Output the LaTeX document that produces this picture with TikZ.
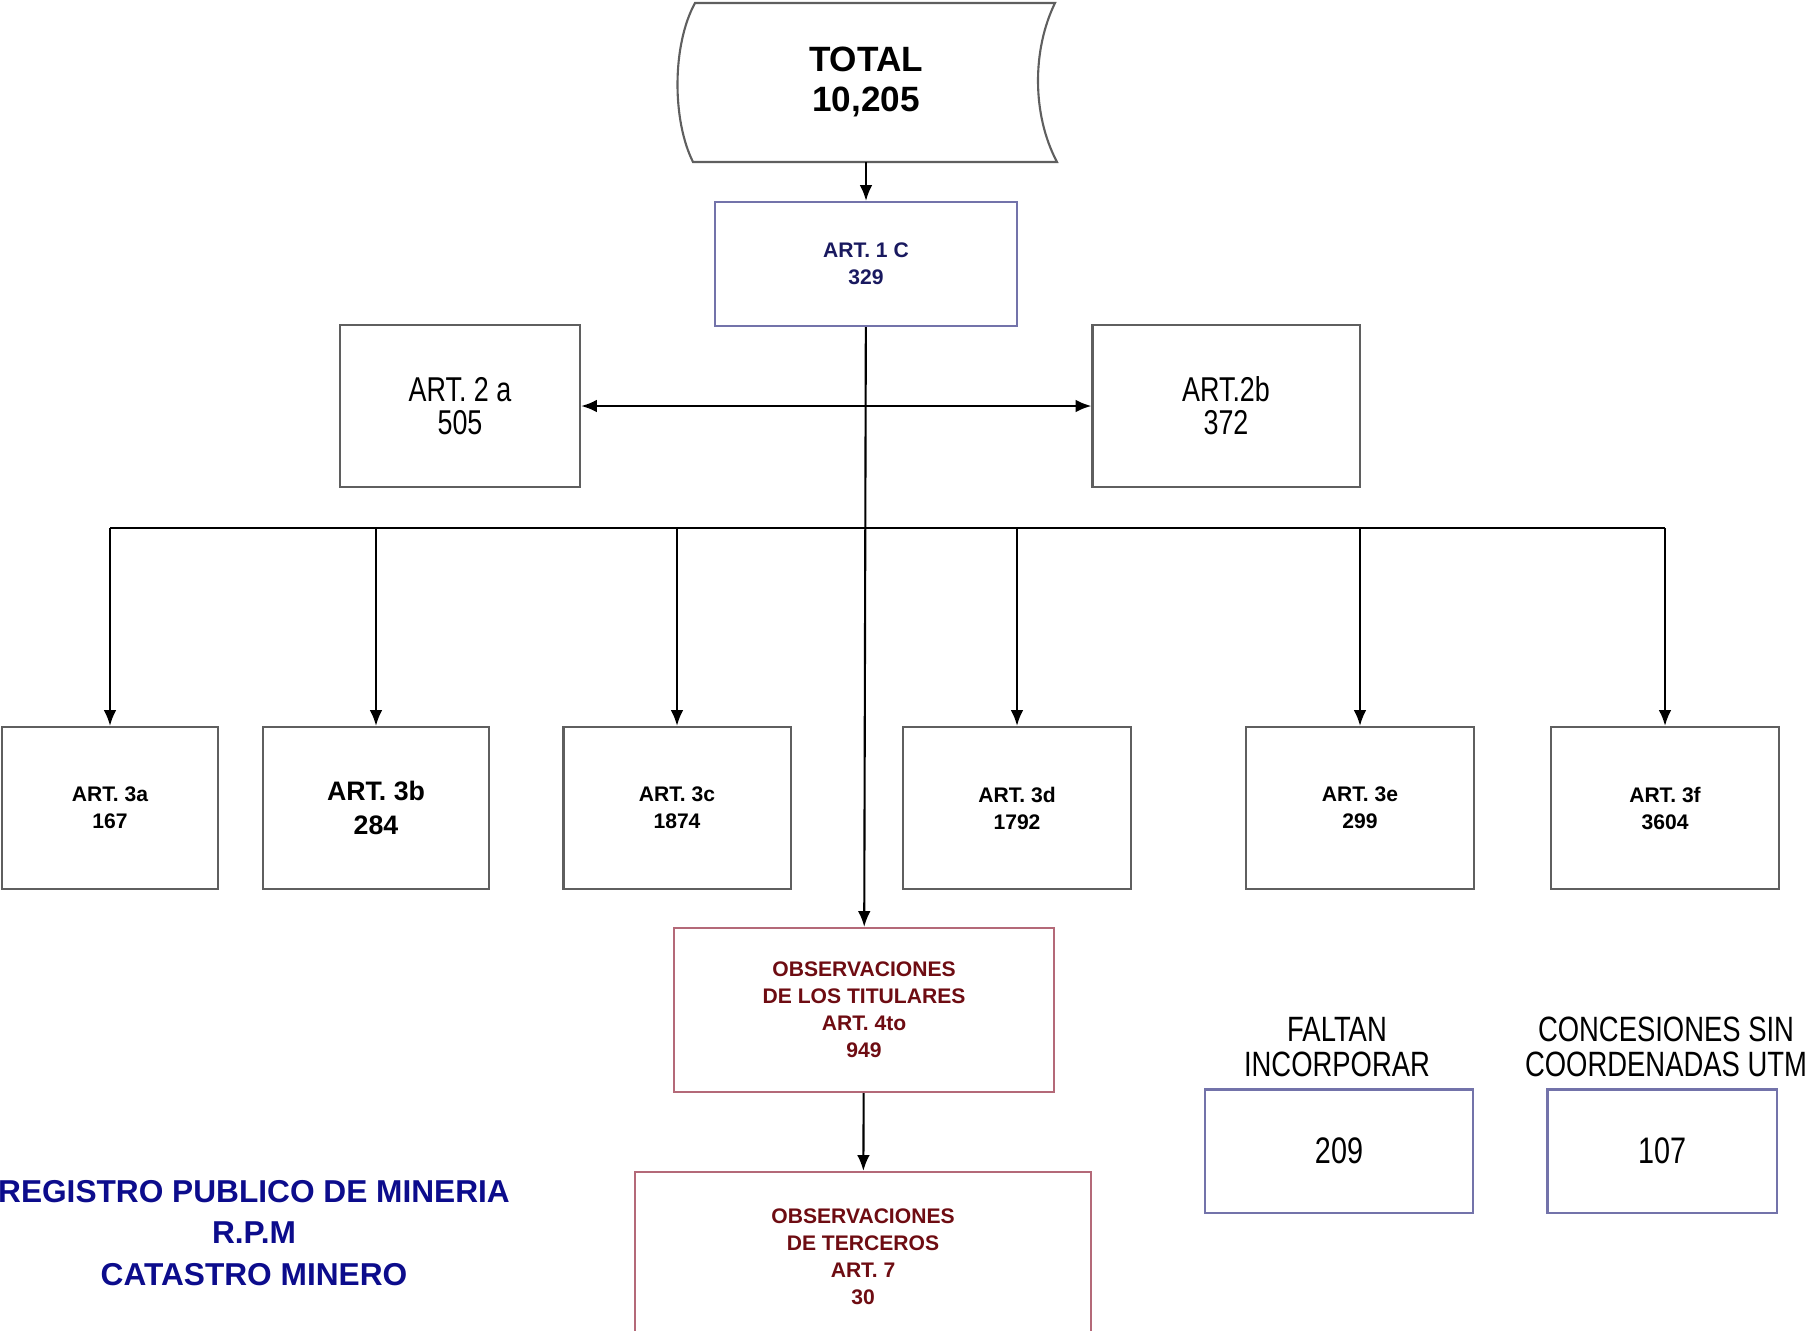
\documentclass[tikz,border=0pt]{standalone}
\usepackage{fontspec}
\setmainfont{Liberation Sans}
\newfontfamily\narrowfont[FakeStretch=0.78]{Liberation Sans}
\usetikzlibrary{arrows.meta}
\definecolor{boxgray}{RGB}{95,95,95}
\definecolor{artnavy}{RGB}{25,25,95}
\definecolor{obsred}{RGB}{110,12,18}
\definecolor{obsline}{RGB}{180,105,120}
\definecolor{artline}{RGB}{115,115,170}
\definecolor{rpmblue}{RGB}{12,12,140}
\begin{document}
\begin{tikzpicture}[x=0.01cm,y=-0.01cm,>={Latex[length=4.5pt,width=3.6pt]},
		box/.style={draw=boxgray,line width=0.6pt,inner sep=0pt,align=center},
		smallbold/.style={font=\bfseries\fontsize{6}{7.7}\selectfont},
		narrowtext/.style={font=\narrowfont\fontsize{9.8}{9.4}\selectfont},
		conn/.style={line width=0.6pt,draw=black}]
		\useasboundingbox (0,0) rectangle (1807,1330);
		\clip (0,0) rectangle (1807,1330);
		\node[inner sep=0pt,align=center,minimum width=3.6cm,minimum height=1.59cm,
			font=\bfseries\fontsize{10}{11.4}\selectfont] (total) at (866,82) {TOTAL\\10,205};
		\draw[draw=boxgray,line width=0.6pt] (695,3) -- (1055,3)
			.. controls (1032,50) and (1032,115) .. (1057,162) -- (693,162)
			.. controls (672,120) and (672,45) .. cycle;
		\node[box,draw=artline,smallbold,text=artnavy,minimum width=3.02cm,minimum height=1.24cm]
			(art1c) at (866,264) {ART. 1 C\\329};
		\node[box,narrowtext,minimum width=2.4cm,minimum height=1.62cm] (art2a) at (460,406) {ART. 2 a\\505};
		\node[box,narrowtext,minimum width=2.67cm,minimum height=1.62cm] (art2b) at (1226,406) {ART.2b\\372};
		\node[box,smallbold,minimum width=2.15cm,minimum height=1.62cm] (art3a) at (110,808) {ART. 3a\\167};
		\node[box,font=\bfseries\fontsize{7.6}{9.7}\selectfont,minimum width=2.25cm,minimum height=1.62cm]
			(art3b) at (376,808) {ART. 3b\\284};
		\node[box,smallbold,minimum width=2.27cm,minimum height=1.62cm] (art3c) at (677,808) {ART. 3c\\1874};
		\node[box,smallbold,minimum width=2.28cm,minimum height=1.62cm] (art3d) at (1017,808) {ART. 3d\\1792};
		\node[box,smallbold,minimum width=2.28cm,minimum height=1.62cm] (art3e) at (1360,808) {ART. 3e\\299};
		\node[box,smallbold,minimum width=2.28cm,minimum height=1.62cm] (art3f) at (1665,808) {ART. 3f\\3604};
		\node[box,draw=obsline,smallbold,text=obsred,minimum width=3.79cm,minimum height=1.64cm]
			(obstit) at (864,1010) {OBSERVACIONES\\DE LOS TITULARES\\ART. 4to\\949};
		\node[box,draw=obsline,smallbold,text=obsred,minimum width=4.56cm,minimum height=1.7cm]
			(obster) at (863,1257) {OBSERVACIONES\\DE TERCEROS\\ART. 7\\30};
		\node[box,draw=artline,font=\narrowfont\fontsize{10.5}{10}\selectfont,minimum width=2.68cm,minimum height=1.23cm]
			(faltan) at (1339,1151) {209};
		\node[box,draw=artline,font=\narrowfont\fontsize{10.5}{10}\selectfont,minimum width=2.29cm,minimum height=1.23cm]
			(sinutm) at (1662,1151) {107};
		\node[align=center,font=\narrowfont\fontsize{10}{10}\selectfont] (faltanlbl) at (1337,1047) {FALTAN\\INCORPORAR};
		\node[align=center,font=\narrowfont\fontsize{10}{10}\selectfont] (sinutmlbl) at (1666,1047) {CONCESIONES SIN\\COORDENADAS UTM};
		\node[align=center,text=rpmblue,font=\bfseries\fontsize{9}{11.7}\selectfont] (rpm) at (254,1233)
			{REGISTRO PUBLICO DE MINERIA\\R.P.M\\CATASTRO MINERO};
		\coordinate (bus) at (866,528);
		\draw[conn,->] (total) -- (art1c);
		\draw[conn,->] (art1c) -- (obstit);
		\draw[conn,<->] (art2a) -- (art2b);
		\draw[conn] (art3a.north |- bus) -- (art3f.north |- bus);
		\draw[conn,->] (art3a.north |- bus) -- (art3a);
		\draw[conn,->] (art3b.north |- bus) -- (art3b);
		\draw[conn,->] (art3c.north |- bus) -- (art3c);
		\draw[conn,->] (art3d.north |- bus) -- (art3d);
		\draw[conn,->] (art3e.north |- bus) -- (art3e);
		\draw[conn,->] (art3f.north |- bus) -- (art3f);
		\draw[conn,->] (obstit) -- (obster);
	\end{tikzpicture}
\end{document}
